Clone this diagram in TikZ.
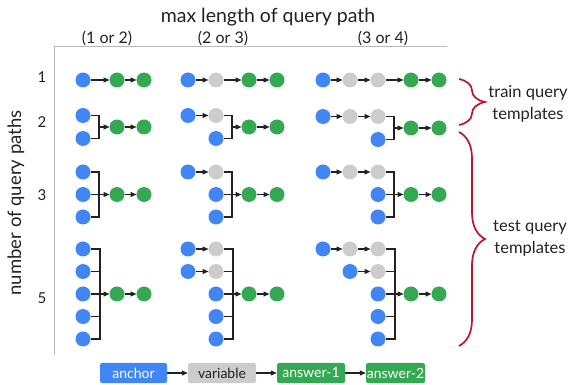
\documentclass[tikz,border=0pt]{standalone}
\usepackage{fontspec}
\setmainfont{Lato}
\usetikzlibrary{arrows.meta,decorations.pathreplacing}
\definecolor{gblue}{HTML}{4285F4}
\definecolor{ggray}{HTML}{CCCCCC}
\definecolor{ggreen}{HTML}{34A853}
\definecolor{linec}{HTML}{222222}
\definecolor{axisc}{HTML}{B8B8B8}
\definecolor{bracec}{RGB}{190,20,50}
\definecolor{txt}{HTML}{222222}
\begin{document}
\begin{tikzpicture}[x=1pt,y=-1pt,
  nd/.style={circle, minimum size=15pt, inner sep=0pt, outer sep=0pt},
  anc/.style={nd, fill=gblue},
  varn/.style={nd, fill=ggray},
  ans/.style={nd, fill=ggreen},
  conn/.style={line width=1.1pt, draw=linec},
  arr/.style={conn, -{Triangle[length=6pt,width=5pt]}},
  axisl/.style={line width=0.9pt, draw=axisc},
  bigtxt/.style={text=txt, font=\fontsize{19.5}{22}\selectfont, inner sep=0pt},
  coltxt/.style={text=txt, font=\fontsize{16}{18}\selectfont, inner sep=0pt},
  midtxt/.style={text=txt, font=\fontsize{15}{17}\selectfont, inner sep=0pt},
  bracetxt/.style={text=txt, font=\fontsize{16.5}{22}\selectfont, align=center, inner sep=0pt},
  bracel/.style={draw=bracec, line width=1.7pt, decorate, decoration={brace, amplitude=26pt}},
  legbox/.style={rectangle, rounded corners=2pt, minimum height=20pt, inner sep=0pt, font=\fontsize{14}{16}\selectfont},
]
\useasboundingbox (0,0) rectangle (582,385);

% axes
\coordinate (o) at (54,46);
\coordinate (xe) at (447,46);
\coordinate (ye) at (54,355);
\draw[axisl] (xe) -- (o) -- (ye);

% titles
\node[bigtxt] (title) at (268,17) {max length of query path};
\node[coltxt] (c1) at (107,38) {(1 or 2)};
\node[coltxt] (c2) at (223,38) {(2 or 3)};
\node[coltxt] (c3) at (383,38) {(3 or 4)};
\node[midtxt] (r1) at (42,77) {1};
\node[midtxt] (r2) at (42,122) {2};
\node[midtxt] (r3) at (42,195) {3};
\node[midtxt] (r5) at (42,298) {5};
\node[bigtxt, font=\fontsize{18.5}{21}\selectfont, rotate=90] (ylab) at (16,203) {number of query paths};

% ---------- column 1 ----------
% row 1
\node[anc] (p111) at (83,80) {};
\node[ans] (p11g1) at (117,80) {};
\node[ans] (p11g2) at (144,80) {};
\draw[arr] (p111) -- (p11g1);
\draw[arr] (p11g1) -- (p11g2);
% row 2
\node[anc] (p121) at (83,115.5) {};
\node[anc] (p122) at (83,138.5) {};
\coordinate (j12) at (99,127);
\node[ans] (p12g1) at (117,127) {};
\node[ans] (p12g2) at (144,127) {};
\draw[conn] (p121) -| (j12) |- (p122);
\draw[arr] (j12) -- (p12g1);
\draw[arr] (p12g1) -- (p12g2);
% row 3
\node[anc] (p131) at (83,172) {};
\node[anc] (p132) at (83,194.5) {};
\node[anc] (p133) at (83,217) {};
\coordinate (j13) at (99,194.5);
\node[ans] (p13g1) at (117,194.5) {};
\node[ans] (p13g2) at (144,194.5) {};
\draw[conn] (p131) -| (j13) |- (p133);
\draw[conn] (p132) -- (j13);
\draw[arr] (j13) -- (p13g1);
\draw[arr] (p13g1) -- (p13g2);
% row 5
\node[anc] (p151) at (83,249) {};
\node[anc] (p152) at (83,271.5) {};
\node[anc] (p153) at (83,294) {};
\node[anc] (p154) at (83,316.5) {};
\node[anc] (p155) at (83,339) {};
\coordinate (j15) at (100,294);
\node[ans] (p15g1) at (117,294) {};
\node[ans] (p15g2) at (144,294) {};
\draw[conn] (p151) -| (j15) |- (p155);
\draw[conn] (p152) -- (p152 -| j15);
\draw[conn] (p153) -- (j15);
\draw[conn] (p154) -- (p154 -| j15);
\draw[arr] (j15) -- (p15g1);
\draw[arr] (p15g1) -- (p15g2);

% ---------- column 2 ----------
% row 1
\node[anc] (p211) at (188,80) {};
\node[varn] (p21v) at (216,80) {};
\node[ans] (p21g1) at (249,80) {};
\node[ans] (p21g2) at (277,80) {};
\draw[arr] (p211) -- (p21v);
\draw[arr] (p21v) -- (p21g1);
\draw[arr] (p21g1) -- (p21g2);
% row 2
\node[anc] (p221) at (188,115.5) {};
\node[varn] (p22v) at (216,115.5) {};
\node[anc] (p222) at (216,138.5) {};
\coordinate (j22) at (232,127);
\node[ans] (p22g1) at (249,127) {};
\node[ans] (p22g2) at (277,127) {};
\draw[arr] (p221) -- (p22v);
\draw[conn] (p22v) -| (j22) |- (p222);
\draw[arr] (j22) -- (p22g1);
\draw[arr] (p22g1) -- (p22g2);
% row 3
\node[anc] (p231) at (188,172) {};
\node[varn] (p23v) at (216,172) {};
\node[anc] (p232) at (216,194.5) {};
\node[anc] (p233) at (216,217) {};
\coordinate (j23) at (232,194.5);
\node[ans] (p23g1) at (249,194.5) {};
\node[ans] (p23g2) at (277,194.5) {};
\draw[arr] (p231) -- (p23v);
\draw[conn] (p23v) -| (j23) |- (p233);
\draw[conn] (p232) -- (j23);
\draw[arr] (j23) -- (p23g1);
\draw[arr] (p23g1) -- (p23g2);
% row 5
\node[anc] (p251) at (188,249) {};
\node[varn] (p25v1) at (216,249) {};
\node[anc] (p252) at (188,271.5) {};
\node[varn] (p25v2) at (216,271.5) {};
\node[anc] (p253) at (216,294) {};
\node[anc] (p254) at (216,316.5) {};
\node[anc] (p255) at (216,339) {};
\coordinate (j25) at (233,294);
\node[ans] (p25g1) at (249,294) {};
\node[ans] (p25g2) at (277,294) {};
\draw[arr] (p251) -- (p25v1);
\draw[arr] (p252) -- (p25v2);
\draw[conn] (p25v1) -| (j25) |- (p255);
\draw[conn] (p25v2) -- (p25v2 -| j25);
\draw[conn] (p253) -- (j25);
\draw[conn] (p254) -- (p254 -| j25);
\draw[arr] (j25) -- (p25g1);
\draw[arr] (p25g1) -- (p25g2);

% ---------- column 3 ----------
% row 1
\node[anc] (p311) at (323,80) {};
\node[varn] (p31v1) at (350,80) {};
\node[varn] (p31v2) at (378,80) {};
\node[ans] (p31g1) at (411,80) {};
\node[ans] (p31g2) at (439,80) {};
\draw[arr] (p311) -- (p31v1);
\draw[arr] (p31v1) -- (p31v2);
\draw[arr] (p31v2) -- (p31g1);
\draw[arr] (p31g1) -- (p31g2);
% row 2
\node[anc] (p321) at (323,116.5) {};
\node[varn] (p32v1) at (350,116.5) {};
\node[varn] (p32v2) at (378,116.5) {};
\node[anc] (p322) at (378,139.5) {};
\coordinate (j32) at (394,128);
\node[ans] (p32g1) at (411,128) {};
\node[ans] (p32g2) at (439,128) {};
\draw[arr] (p321) -- (p32v1);
\draw[arr] (p32v1) -- (p32v2);
\draw[conn] (p32v2) -| (j32) |- (p322);
\draw[arr] (j32) -- (p32g1);
\draw[arr] (p32g1) -- (p32g2);
% row 3
\node[anc] (p331) at (323,172) {};
\node[varn] (p33v1) at (350,172) {};
\node[varn] (p33v2) at (378,172) {};
\node[anc] (p332) at (378,194.5) {};
\node[anc] (p333) at (378,217) {};
\coordinate (j33) at (394,194.5);
\node[ans] (p33g1) at (411,194.5) {};
\node[ans] (p33g2) at (439,194.5) {};
\draw[arr] (p331) -- (p33v1);
\draw[arr] (p33v1) -- (p33v2);
\draw[conn] (p33v2) -| (j33) |- (p333);
\draw[conn] (p332) -- (j33);
\draw[arr] (j33) -- (p33g1);
\draw[arr] (p33g1) -- (p33g2);
% row 5
\node[anc] (p351) at (323,249) {};
\node[varn] (p35v1) at (350,249) {};
\node[varn] (p35v2) at (378,249) {};
\node[anc] (p352) at (350,271.5) {};
\node[varn] (p35v3) at (378,271.5) {};
\node[anc] (p353) at (378,294) {};
\node[anc] (p354) at (378,316.5) {};
\node[anc] (p355) at (378,339) {};
\coordinate (j35) at (395,294);
\node[ans] (p35g1) at (411,294) {};
\node[ans] (p35g2) at (439,294) {};
\draw[arr] (p351) -- (p35v1);
\draw[arr] (p35v1) -- (p35v2);
\draw[arr] (p352) -- (p35v3);
\draw[conn] (p35v2) -| (j35) |- (p355);
\draw[conn] (p35v3) -- (p35v3 -| j35);
\draw[conn] (p353) -- (j35);
\draw[conn] (p354) -- (p354 -| j35);
\draw[arr] (j35) -- (p35g1);
\draw[arr] (p35g1) -- (p35g2);

% braces
\coordinate (b1s) at (459,79);
\coordinate (b1e) at (459,125);
\coordinate (b2s) at (459,132);
\coordinate (b2e) at (459,346);
\draw[bracel] (b1s) -- (b1e);
\draw[bracel] (b2s) -- (b2e);
\node[bracetxt] (train) at (528,104) {train query\\templates};
\node[bracetxt] (test) at (530,238) {test query\\templates};

% legend
\node[legbox, fill=gblue, text=white, minimum width=67pt] (lanc) at (133.5,373) {anchor};
\node[legbox, fill=ggray, text=txt, minimum width=68pt] (lvar) at (222,373) {variable};
\node[legbox, fill=ggreen, text=white, minimum width=68pt] (la1) at (311,373) {answer-1};
\node[legbox, fill=ggreen, text=white, minimum width=59pt] (la2) at (395.5,373) {answer-2};
\draw[arr] (lanc) -- (lvar);
\draw[arr] (lvar) -- (la1);
\draw[arr] (la1) -- (la2);
\end{tikzpicture}
\end{document}
